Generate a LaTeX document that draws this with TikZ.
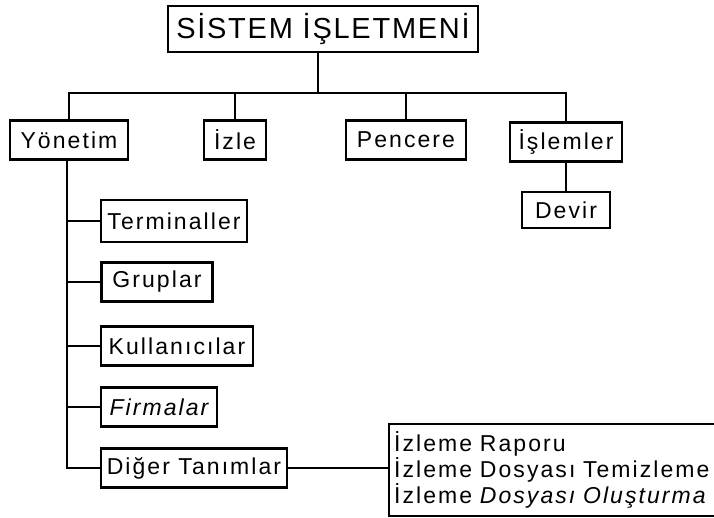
\documentclass[tikz,border=0pt]{standalone}
\usepackage{fontspec}
\setmainfont{Liberation Sans}[LetterSpace=9]
\begin{document}
\begin{tikzpicture}[x=1pt,y=-1pt,
  box/.style={draw, line width=2.3pt, inner sep=0pt, minimum height=39pt,
    font=\fontsize{23}{26}\selectfont},
  titlebox/.style={draw, line width=2.3pt, inner sep=0pt,
    minimum width=310pt, minimum height=46pt,
    font=\addfontfeatures{LetterSpace=6}\fontsize{29}{32}\selectfont},
  listbox/.style={draw, line width=2.3pt, anchor=north west, align=left,
    inner xsep=5pt, inner ysep=0pt, minimum height=92pt, text width=340pt,
    font=\fontsize{23}{26}\selectfont},
  link/.style={line width=1.7pt}]
\useasboundingbox (0,0) rectangle (714,518);
\clip (0,0) rectangle (714,518);

% top of the tree
\node[titlebox] (title) at (323,29) {SİSTEM İŞLETMENİ};
\coordinate (bus) at (318,93);

% first level
\node[box, minimum width=118pt] (yon)   at (69,140)  {Yönetim};
\node[box, minimum width=62pt]  (izle)  at (235,140) {İzle};
\node[box, minimum width=120pt] (pen)   at (406,140) {Pencere};
\node[box, minimum width=112pt] (isl)   at (566,142) {İşlemler};
\node[box, minimum width=88pt, minimum height=36pt] (devir) at (566,210) {Devir};

% management submenu
\node[box, minimum width=146pt, minimum height=42pt] (term) at (174,221) {Terminaller};
\node[box, minimum width=111pt] (grup)  at (157,282) {Gruplar};
\node[box, minimum width=152pt] (kull)  at (177,346) {Kullanıcılar};
\node[box, minimum width=116pt] (firm)  at (159,407) {\itshape Firmalar};
\node[box, minimum width=186pt] (diger) at (194,468) {Diğer Tanımlar};

% other definitions list
\node[listbox] (ops) at (388,423)
  {İzleme Raporu\\
   İzleme Dosyası Temizleme\\
   İzleme {\itshape Dosyası Oluşturma}};

% connectors
\draw[link] (title.south -| bus) -- (bus);
\draw[link] (yon.north) -- (yon.north |- bus) -- (isl.north |- bus) -- (isl.north);
\draw[link] (izle.north) -- (izle.north |- bus);
\draw[link] (pen.north) -- (pen.north |- bus);
\draw[link] (isl.south) -- (devir.north);

\coordinate (spine) at (67,160);
\draw[link] (spine) -- (spine |- diger.west) -- (diger.west);
\foreach \n in {term,grup,kull,firm}
  \draw[link] (spine |- \n.west) -- (\n.west);
\draw[link] (diger.east) -- (ops.west |- diger.east);
\end{tikzpicture}
\end{document}
